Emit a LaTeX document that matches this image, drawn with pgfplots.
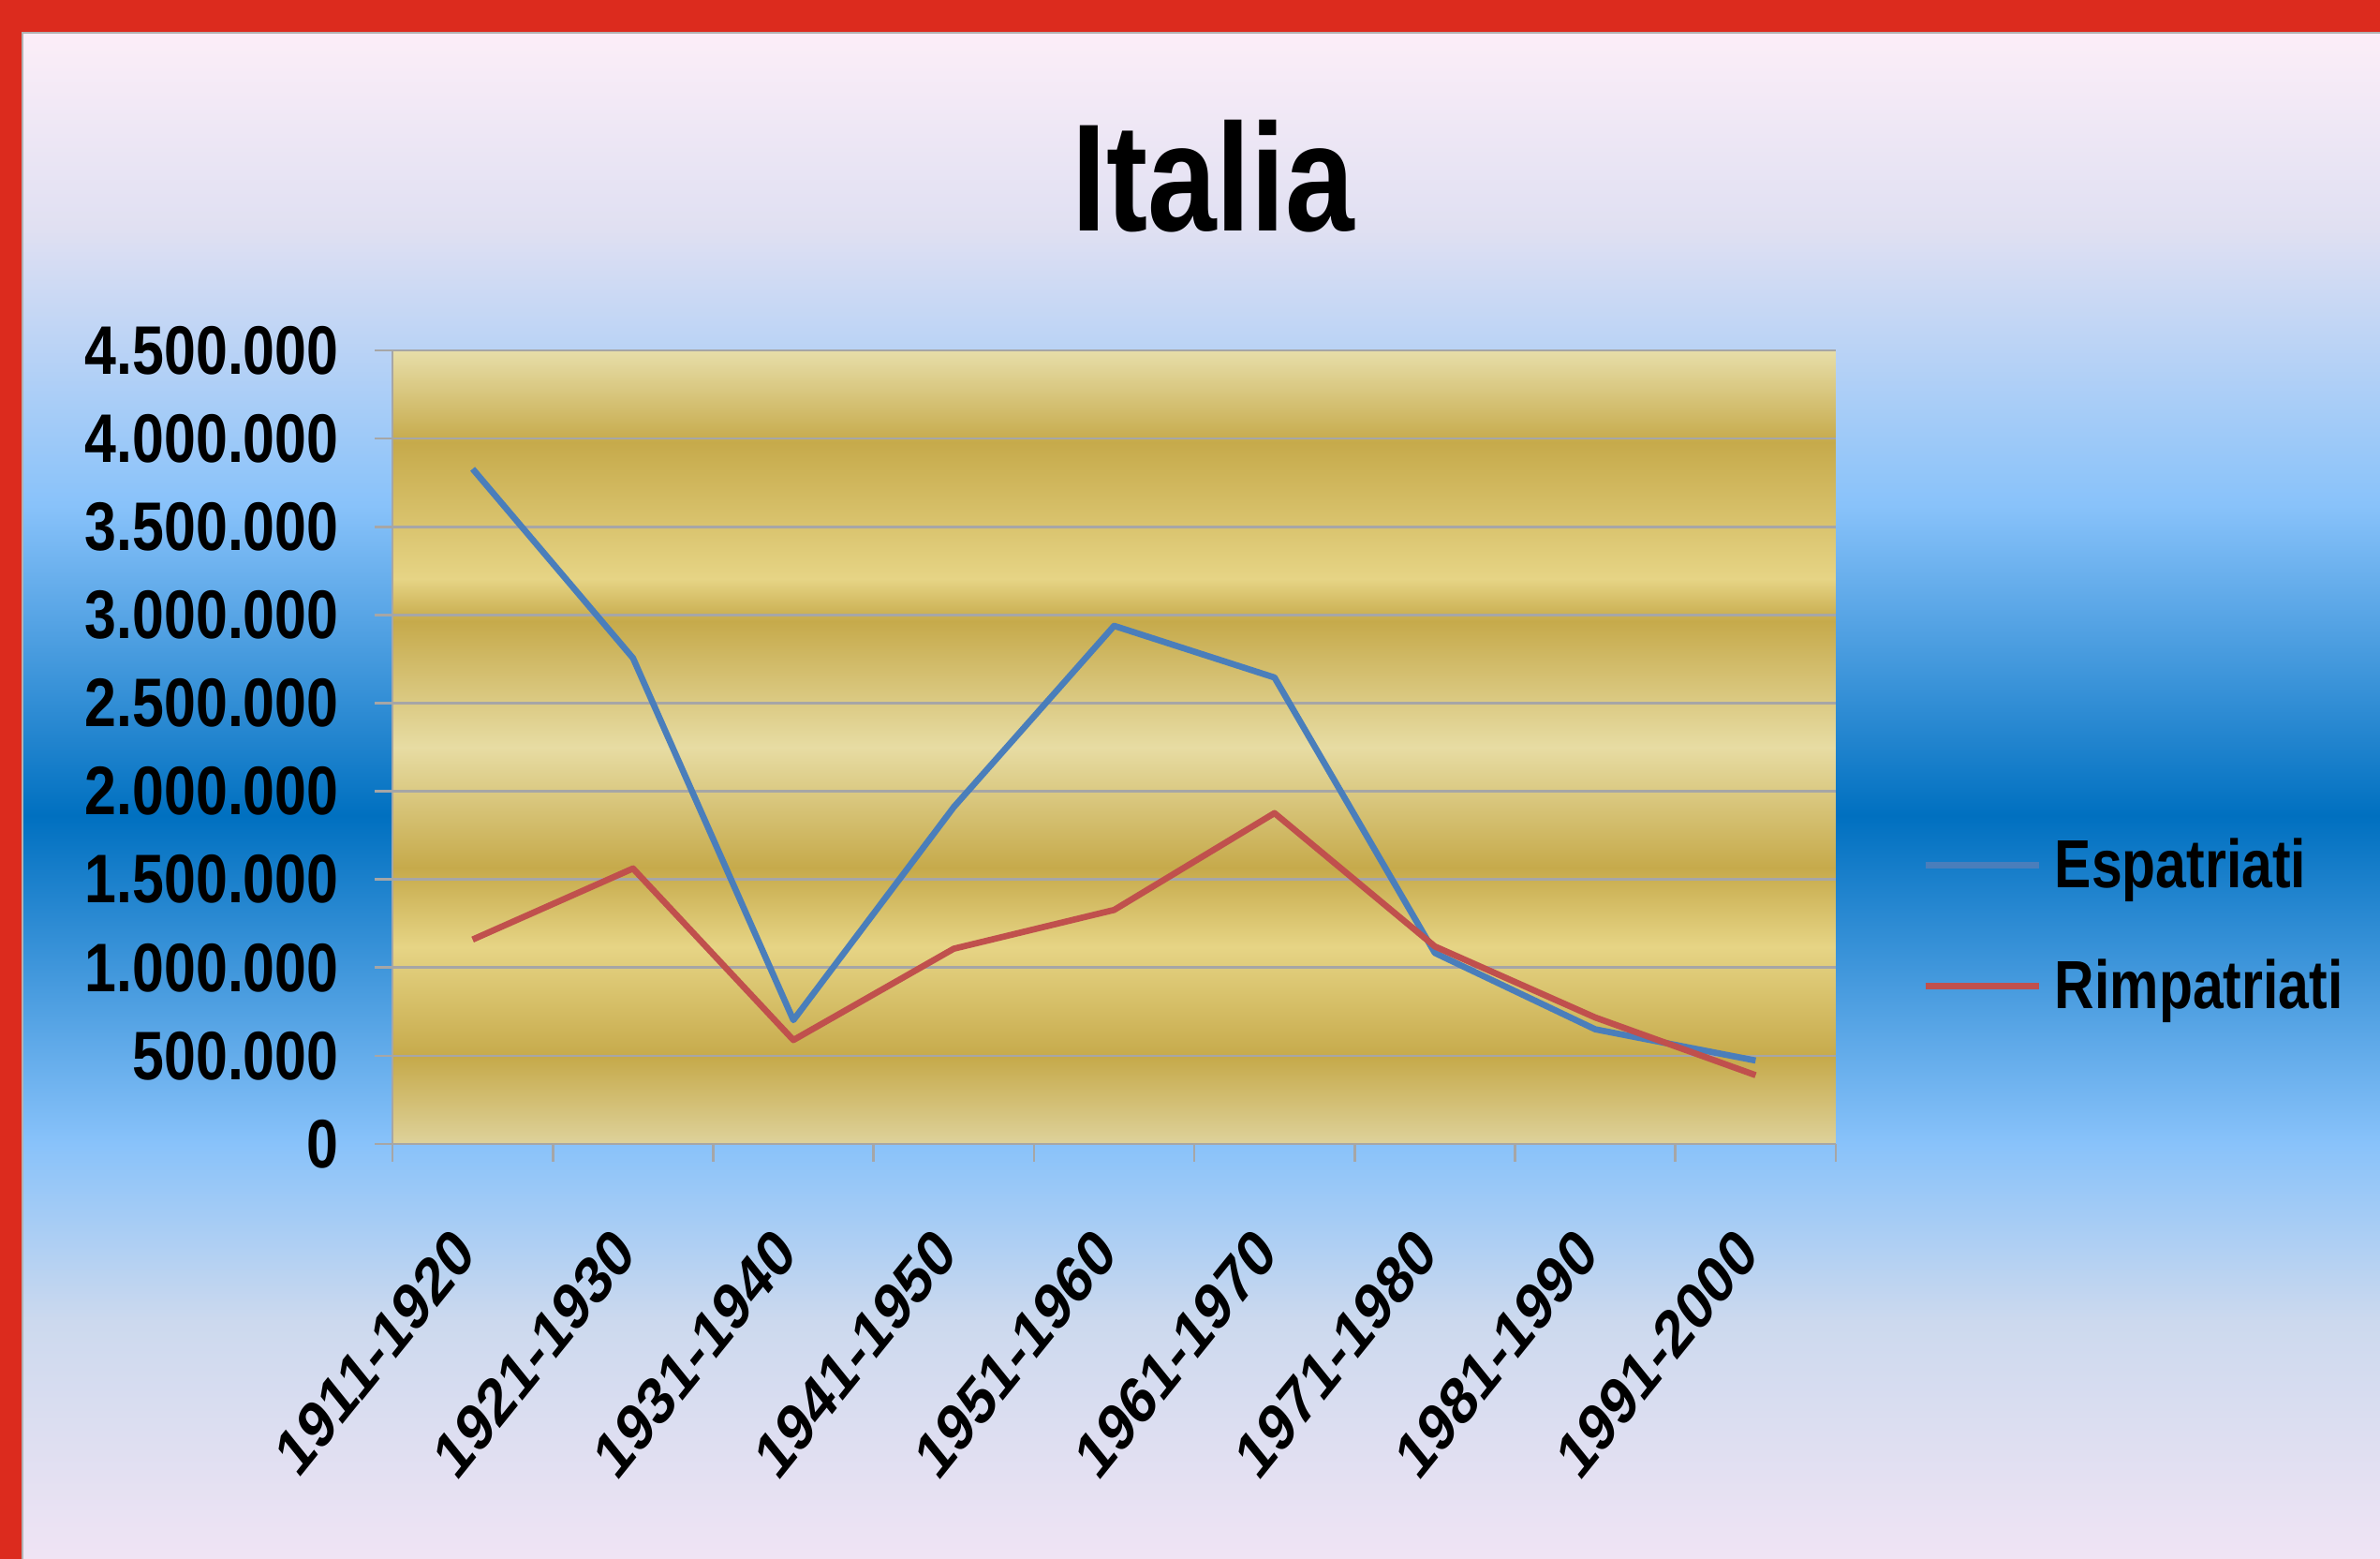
\documentclass[border=0pt]{standalone}
\usepackage{pgfplots}
\pgfplotsset{compat=1.18}
\usepackage{fontspec}
\setmainfont[FakeStretch=0.81]{Liberation Sans}
\newfontfamily\xfont{Liberation Sans}
\newfontfamily\yfont[FakeStretch=0.83]{Liberation Sans}
\definecolor{redb}{HTML}{DC2B1E}
\definecolor{pt}{HTML}{FCEEF8}
\definecolor{pt2}{HTML}{E0E0F2}
\definecolor{lb}{HTML}{88C2FA}
\definecolor{db}{HTML}{0070C0}
\definecolor{pb2}{HTML}{CCD9EE}
\definecolor{pb}{HTML}{F0E4F4}
\definecolor{gt}{HTML}{E7DEA9}
\definecolor{gd}{HTML}{C6AA4B}
\definecolor{gl}{HTML}{E6D485}
\definecolor{gp}{HTML}{E7DCA3}
\definecolor{gb}{HTML}{DED29B}
\definecolor{gridc}{HTML}{A6A6A6}
\definecolor{espc}{HTML}{4A7EBB}
\definecolor{rimc}{HTML}{C0504D}
\pgfdeclareverticalshading{panel}{100bp}{color(0bp)=(pb); color(25bp)=(pb); color(32.8bp)=(pb2); color(38.65bp)=(lb); color(49.35bp)=(db); color(59.5bp)=(lb); color(68.6bp)=(pt2); color(75bp)=(pt); color(100bp)=(pt)}
\pgfdeclareverticalshading{gold}{100bp}{color(0bp)=(gb); color(25bp)=(gb); color(30.45bp)=(gd); color(37.4bp)=(gl); color(42.4bp)=(gd); color(50bp)=(gp); color(57.95bp)=(gd); color(60.6bp)=(gl); color(69.2bp)=(gd); color(75bp)=(gt); color(100bp)=(gt)}
\begin{document}
\begin{tikzpicture}
\useasboundingbox (0,0) rectangle (762.3pt,499.2pt);
\fill[redb] (0,0) rectangle (762.3pt,499.2pt);
\shade[shading=panel] (7.2pt,0) rectangle (762.3pt,488.7pt);
\draw[gray!60, line width=0.6pt] (7.2pt,0) -- (7.2pt,488.7pt) -- (762.3pt,488.7pt);
\node[font=\bfseries\fontsize{49}{55}\selectfont, anchor=base, inner sep=0pt] at (388.5pt,425.1pt) {Italia};
\begin{axis}[
  at={(125.7pt,132.9pt)}, anchor=south west,
  width=462.3pt, height=254.1pt, scale only axis,
  xmin=0.5, xmax=9.5, ymin=0, ymax=4500000,
  axis lines=left, axis line style={-, draw=gridc, line width=0.8pt},
  axis background/.style={shading=gold},
  ymajorgrids, grid style={gridc, line width=0.8pt},
  ytick={0,500000,...,4500000},
  scaled y ticks=false,
  /pgf/number format/.cd, fixed, 1000 sep={.}, assume math mode=true, /pgfplots/.cd,
  tick align=outside, major tick length=5.7pt, tick style={gridc, line width=0.8pt},
  xtick={0.5,1.5,2.5,3.5,4.5,5.5,6.5,7.5,8.5,9.5}, xticklabels={},
  extra x ticks={1,2,3,4,5,6,7,8,9},
  extra x tick labels={1911-1920,1921-1930,1931-1940,1941-1950,1951-1960,1961-1970,1971-1980,1981-1990,1991-2000},
  extra x tick style={major tick length=0pt, grid=none},
  yticklabel style={font=\yfont\bfseries\fontsize{22}{25}\selectfont},
  yticklabel shift=8pt,
  xticklabel style={font=\xfont\bfseries\fontsize{17.2}{20}\selectfont, anchor=east, cm={0.707,0.877,-0.707,0.877,(0,0)}},
  xticklabel shift=28pt,
  legend style={at={(1.053,0.275)}, anchor=west, draw=none, fill=none,
    font=\bfseries\fontsize{21.8}{25}\selectfont, row sep=21.4pt,
    nodes={inner sep=0pt},
    /tikz/every odd column/.append style={column sep=4pt}},
  legend cell align=left,
  legend image code/.code={\draw[#1, line width=2pt] (0pt,0pt) -- (36.5pt,0pt);},
]
\addplot[espc, line width=2pt, line join=round] coordinates {(1,3828000) (2,2755000) (3,702000) (4,1910000) (5,2938000) (6,2645000) (7,1083000) (8,650000) (9,473000)};
\addlegendentry{Espatriati}
\addplot[rimc, line width=2pt, line join=round] coordinates {(1,1159000) (2,1562000) (3,589000) (4,1107000) (5,1327000) (6,1876000) (7,1120000) (8,717000) (9,390000)};
\addlegendentry{Rimpatriati}
\end{axis}
\end{tikzpicture}
\end{document}
